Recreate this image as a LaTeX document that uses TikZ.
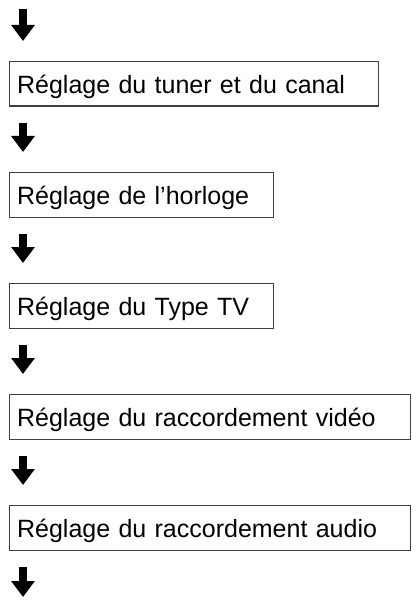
\documentclass[tikz,border=0pt]{standalone}
\usepackage{fontspec}
\setmainfont{Liberation Sans}
\usetikzlibrary{arrows.meta}
\definecolor{boxline}{gray}{0.25}
\tikzset{
  stepbox/.style={draw=boxline, line width=1.2pt, anchor=north west,
    minimum height=44.5pt, inner xsep=7.5pt, inner ysep=0pt, align=left,
    text height=19pt, text depth=0pt,
    font=\fontsize{25}{29}\selectfont},
  bigarrow/.style={line width=7.6pt, -{Triangle[width=22.7pt,length=16pt]}}
}
\begin{document}
\begin{tikzpicture}[x=1pt,y=1pt]
\useasboundingbox (0,0) rectangle (415,-604);
\node[stepbox, text width=354pt] (b1) at (9,-61) {Réglage du tuner et du canal};
\node[stepbox, text width=249pt] (b2) at (9,-172) {Réglage de l’horloge};
\node[stepbox, text width=249pt] (b3) at (9,-283) {Réglage du Type TV};
\node[stepbox, text width=386pt] (b4) at (9,-394) {Réglage du raccordement vidéo};
\node[stepbox, text width=386pt] (b5) at (9,-505) {Réglage du raccordement audio};
\coordinate (top) at (23,-9);
\coordinate (bot) at (23,-597);
\draw[bigarrow, shorten >=20pt] (top) -- ([xshift=14pt]b1.north west);
\draw[bigarrow, shorten <=16pt, shorten >=20pt] ([xshift=14pt]b1.south west) -- ([xshift=14pt]b2.north west);
\draw[bigarrow, shorten <=16pt, shorten >=20pt] ([xshift=14pt]b2.south west) -- ([xshift=14pt]b3.north west);
\draw[bigarrow, shorten <=16pt, shorten >=20pt] ([xshift=14pt]b3.south west) -- ([xshift=14pt]b4.north west);
\draw[bigarrow, shorten <=16pt, shorten >=20pt] ([xshift=14pt]b4.south west) -- ([xshift=14pt]b5.north west);
\draw[bigarrow, shorten <=16pt] ([xshift=14pt]b5.south west) -- (bot);
\end{tikzpicture}
\end{document}
